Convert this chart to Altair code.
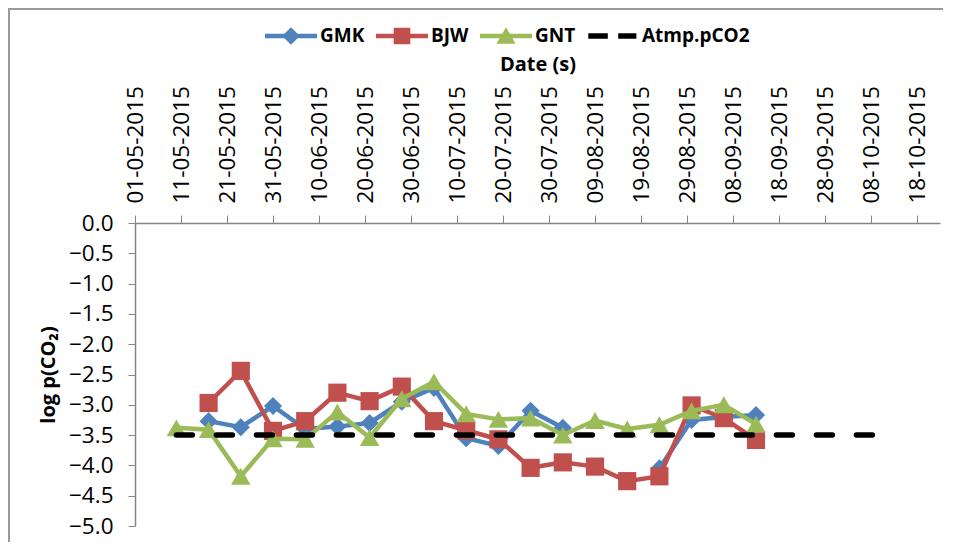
import altair as alt
import pandas as pd

# ---------------- data ----------------
DATES = ["2015-05-10", "2015-05-17", "2015-05-24", "2015-05-31", "2015-06-07",
         "2015-06-14", "2015-06-21", "2015-06-28", "2015-07-05", "2015-07-12",
         "2015-07-19", "2015-07-26", "2015-08-02", "2015-08-09", "2015-08-16",
         "2015-08-23", "2015-08-30", "2015-09-06", "2015-09-13"]
GMK = [None, -3.27, -3.37, -3.02, -3.40, -3.36, -3.30, -2.95, -2.72, -3.55,
       -3.68, -3.10, -3.38, None, None, -4.05, -3.25, -3.20, -3.17]
BJW = [None, -2.97, -2.44, -3.43, -3.27, -2.80, -2.94, -2.70, -3.27, -3.42,
       -3.57, -4.04, -3.95, -4.02, -4.26, -4.18, -3.01, -3.22, -3.58]
GNT = [-3.38, -3.41, -4.18, -3.56, -3.57, -3.12, -3.54, -2.90, -2.62, -3.15,
       -3.24, -3.22, -3.50, -3.26, -3.40, -3.33, -3.10, -3.00, -3.32]
ATM_DATES = ["2015-05-10", "2015-10-11"]
ATM = [-3.5, -3.5]

SERIES = ["GMK", "BJW", "GNT", "Atmp.pCO2"]
COLORS = ["#4F81BD", "#C0504D", "#9BBB59", "#000000"]
X_START = "2015-05-01"
X_DOMAIN_DAYS = [0, 175]
TICK_DAYS = list(range(0, 171, 10))
Y_TICKS = [0.0, -0.5, -1.0, -1.5, -2.0, -2.5, -3.0, -3.5, -4.0, -4.5, -5.0]

FONT = "Open Sans"
AXIS_GRAY = "#868686"
BORDER_GRAY = "#9A9A9A"

W, H = 805, 303
PAD = {"left": 127, "top": 215, "right": 3, "bottom": 16}

start = pd.Timestamp(X_START)


def days_of(dates):
    return [(pd.Timestamp(d) - start).days for d in dates]


X = alt.X(
    "day:Q",
    scale=alt.Scale(domain=X_DOMAIN_DAYS, nice=False, zero=False),
    axis=alt.Axis(
        orient="top", values=TICK_DAYS,
        labelExpr="timeFormat(datetime(2015, 4, 1 + datum.value), '%d-%m-%Y')",
        labelAngle=270, labelFontSize=22.5, labelFont=FONT, labelColor="#000000",
        labelPadding=12, labelOverlap=False, labelFlush=False, labelBound=False,
        tickSize=8, tickColor=AXIS_GRAY, domainColor=AXIS_GRAY, domainWidth=1.5,
        grid=False, title="Date (s)", titleFont=FONT, titleFontSize=20,
        titleFontWeight="bold", titlePadding=11, titleColor="#000000",
    ),
)
Y = alt.Y(
    "value:Q",
    scale=alt.Scale(domain=[-5, 0], nice=False, zero=False),
    axis=alt.Axis(
        values=Y_TICKS, format=".1f", labelFontSize=22.5, labelFont=FONT,
        labelColor="#000000", labelPadding=15, tickSize=7, tickColor=AXIS_GRAY,
        domainColor=AXIS_GRAY, domainWidth=1.5, grid=False,
        title="log p(CO\u2082)", titleFont=FONT, titleFontSize=20,
        titleFontWeight="bold", titlePadding=10, titleColor="#000000",
    ),
)


def series_layer(dates, vals, color, shape, size):
    df = pd.DataFrame({"day": days_of(dates), "value": vals})
    df["seg"] = df["value"].isna().cumsum()
    df = df.dropna()
    base = alt.Chart(df)
    line = base.mark_line(color=color, strokeWidth=4.5).encode(x=X, y=Y, detail="seg:N")
    pts = base.mark_point(shape=shape, filled=True, color=color, size=size,
                          opacity=1, strokeWidth=0).encode(x=X, y=Y)
    return [line, pts]


# chart-area frame (decoration, like the spreadsheet chart border);
# its right and bottom edges fall outside the picture, as in the reference
frame_df = pd.DataFrame({"k": [0]})
frame = alt.Chart(frame_df).mark_rect(
    fillOpacity=0, stroke=BORDER_GRAY, strokeWidth=2
).encode(
    x=alt.value(-PAD["left"] + 1), x2=alt.value(W + PAD["right"] + 40),
    y=alt.value(-PAD["top"] + 1), y2=alt.value(H + PAD["bottom"] + 40),
)

layers = [frame]
layers += series_layer(DATES, GMK, COLORS[0], "diamond", 330)
layers += series_layer(DATES, BJW, COLORS[1], "square", 330)
layers += series_layer(DATES, GNT, COLORS[2], "triangle-up", 380)

atm_df = pd.DataFrame({"day": days_of(ATM_DATES), "value": ATM})
layers.append(
    alt.Chart(atm_df).mark_line(color="#000000", strokeWidth=5.5,
                                strokeDash=[16, 24], strokeCap="round")
    .encode(x=X, y=Y)
)

# legend-only layer (no visible marks: values are empty)
LEGEND_PATHS = [
    "M-1,-0.085H1V0.085H-1Z M0,-0.34L0.34,0L0,0.34L-0.34,0Z",
    "M-1,-0.085H1V0.085H-1Z M-0.32,-0.32H0.32V0.32H-0.32Z",
    "M-1,-0.085H1V0.085H-1Z M0,-0.34L0.37,0.3H-0.37Z",
    "M-0.95,-0.11H-0.2V0.11H-0.95Z M0.2,-0.11H0.9V0.11H0.2Z",
]
leg_df = pd.DataFrame({"series": SERIES, "day": [None] * 4, "value": [None] * 4})
legend_layer = alt.Chart(leg_df).mark_point(filled=True, opacity=1, strokeWidth=0).encode(
    x=X, y=Y,
    color=alt.Color("series:N", scale=alt.Scale(domain=SERIES, range=COLORS),
                    legend=alt.Legend(
                        orient="none", legendX=130, legendY=-213,
                        direction="horizontal", columns=4, title=None,
                        symbolSize=2704, symbolStrokeWidth=0, symbolOpacity=1,
                        labelFont=FONT, labelFontSize=19, labelFontWeight="bold",
                        labelColor="#000000", labelOffset=3, columnPadding=11,
                        labelLimit=300,
                    )),
    shape=alt.Shape("series:N", scale=alt.Scale(domain=SERIES, range=LEGEND_PATHS)),
)
layers.append(legend_layer)

chart = alt.layer(*layers).properties(
    width=W, height=H,
    autosize=alt.AutoSizeParams(type="none"),
    padding=PAD,
).configure(font=FONT).configure_view(stroke="transparent")

chart.save("out.html", embed_options={"renderer": "svg", "actions": False})
